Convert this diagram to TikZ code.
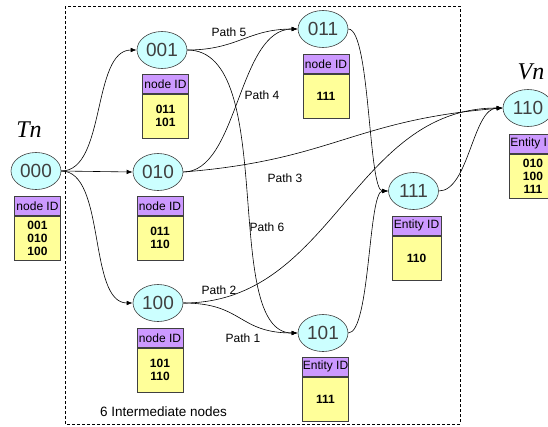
\documentclass[tikz,border=0pt]{standalone}
\usepackage{fontspec}
\setmainfont{Liberation Sans}
\newfontfamily\labelserif{Liberation Serif}
\usetikzlibrary{shapes.geometric,arrows.meta}

\definecolor{nodefill}{HTML}{CCFFFF}
\definecolor{headfill}{HTML}{CC99FF}
\definecolor{bodyfill}{HTML}{FFFF99}
\definecolor{rim}{HTML}{404040}

\tikzset{
  vertex/.style={ellipse, draw=rim, fill=nodefill, line width=0.6pt,
    minimum width=50pt, minimum height=37pt, inner sep=0pt,
    text=black!75, font=\fontsize{19}{19}\selectfont},
  idhead/.style={rectangle, draw=rim, fill=headfill, line width=0.6pt,
    minimum width=46pt, minimum height=19pt, inner sep=0pt, anchor=north,
    font=\fontsize{12}{12}\selectfont},
  idbody/.style={rectangle, draw=rim, fill=bodyfill, line width=0.6pt,
    minimum width=46pt, minimum height=44pt, inner sep=0pt, anchor=north,
    align=center, font=\bfseries\fontsize{12}{13}\selectfont},
  link/.style={draw=black, line width=0.6pt, -{Latex[length=6pt,width=4.5pt]}},
  pathlabel/.style={font=\fontsize{12}{12}\selectfont},
  setlabel/.style={font=\labelserif\itshape\fontsize{24}{24}\selectfont},
  region/.style={draw=black, line width=0.6pt, dash pattern=on 3pt off 2pt},
}

% ID table under a node: header box with the body box hung below it
\newcommand\idtable[6][46]{%
  \node[idhead, minimum width=#1pt] (#2h) at (#3,#4) {#5};
  \node[idbody, minimum width=#1pt] (#2b) at (#2h.south) {#6};
}

\begin{document}
\begin{tikzpicture}[x=1pt,y=-1pt]
  \useasboundingbox (0,0) rectangle (548,426);
  \clip (0,0) rectangle (548,426);
  \fill[white] (0,0) rectangle (548,426);

  % region of the intermediate nodes
  \draw[region] (65,6) rectangle (460,424);
  \node[font=\fontsize{13.5}{14}\selectfont] (caption) at (163.5,412) {6 Intermediate nodes};

  % set labels
  \node[setlabel] (tn) at (29,130) {Tn};
  \node[setlabel] (vn) at (531,72) {Vn};

  % nodes
  \node[vertex] (n000) at (36,171) {000};
  \node[vertex] (n001) at (162,50) {001};
  \node[vertex] (n011) at (323,29) {011};
  \node[vertex] (n010) at (158,172) {010};
  \node[vertex] (n100) at (158,303) {100};
  \node[vertex] (n101) at (323,333) {101};
  \node[vertex] (n111) at (413.5,191) {111};
  \node[vertex] (n110) at (528,108) {110};

  % ID tables
  \idtable{t000}{37.5}{196}{node ID}{001\\010\\100}
  \idtable{t001}{165.5}{74}{node ID}{011\\101}
  \idtable{t011}{326}{54}{node ID}{111}
  \idtable{t010}{160}{196}{node ID}{011\\110}
  \idtable{t100}{160}{328}{node ID}{101\\110}
  \idtable{t101}{325.5}{357}{Entity ID}{111}
  \idtable[49]{t111}{416.5}{216}{Entity ID}{110}
  \idtable[48]{t110}{533}{134}{Entity ID}{010\\100\\111}

  % connectors
  \draw[link] (n000.east) .. controls +(45,0) and +(-45,0) .. (n001.west);
  \draw[link] (n000.east) -- (n010.west);
  \draw[link] (n000.east) .. controls +(45,0) and +(-45,0) .. (n100.west);
  \draw[link] (n001.east) .. controls +(50,0) and +(-50,0) .. (n011.west);
  \draw[link] (n010.east) .. controls +(55,0) and +(-60,0) .. (n011.west);
  \draw[link] (n010.east) .. controls +(150,-12) and +(-150,12) .. (n110.west);
  \draw[link] (n001.east) .. controls +(92,0) and +(-78,0) .. (n101.west);
  \draw[link] (n100.east) .. controls +(150,0) and +(-150,0) .. (n110.west);
  \draw[link] (n100.east) .. controls +(60,0) and +(-60,0) .. (n101.west);
  \draw[link] (n011.east) .. controls +(22,0) and +(-20,0) .. (n111.west);
  \draw[link] (n101.east) .. controls +(22,0) and +(-20,0) .. (n111.west);
  \draw[link] (n111.east) .. controls +(30,0) and +(-30,0) .. (n110.west);

  % path labels
  \node[pathlabel] (p5) at (229,32) {Path 5};
  \node[pathlabel] (p4) at (262,95) {Path 4};
  \node[pathlabel] (p3) at (285,178) {Path 3};
  \node[pathlabel] (p6) at (267,227) {Path 6};
  \node[pathlabel] (p2) at (219,290) {Path 2};
  \node[pathlabel] (p1) at (243,338) {Path 1};
\end{tikzpicture}
\end{document}
